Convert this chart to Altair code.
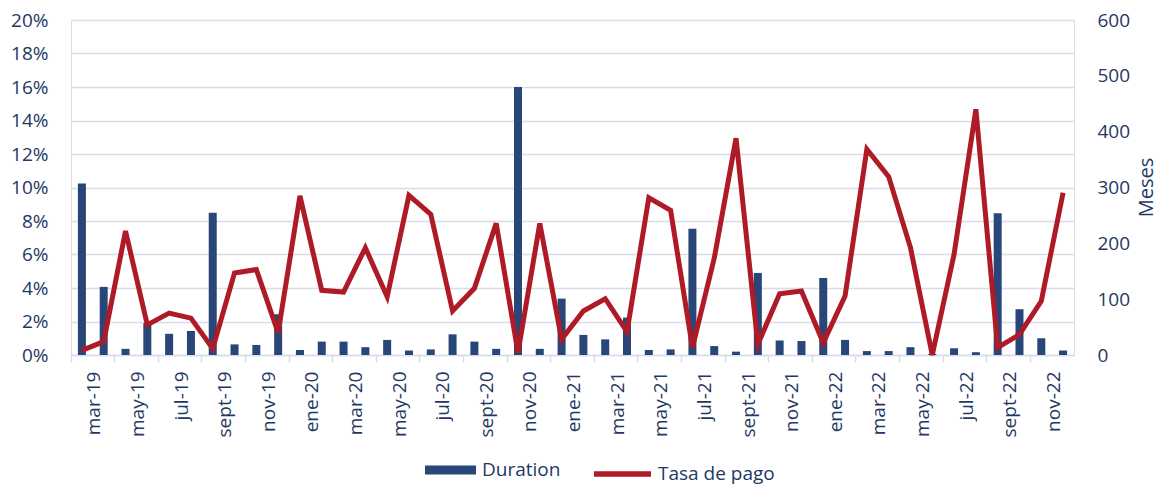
import altair as alt
import pandas as pd

months = [
    "mar-19", "abr-19", "may-19", "jun-19", "jul-19", "ago-19", "sept-19", "oct-19", "nov-19", "dic-19",
    "ene-20", "feb-20", "mar-20", "abr-20", "may-20", "jun-20", "jul-20", "ago-20", "sept-20", "oct-20",
    "nov-20", "dic-20", "ene-21", "feb-21", "mar-21", "abr-21", "may-21", "jun-21", "jul-21", "ago-21",
    "sept-21", "oct-21", "nov-21", "dic-21", "ene-22", "feb-22", "mar-22", "abr-22", "may-22", "jun-22",
    "jul-22", "ago-22", "sept-22", "oct-22", "nov-22", "dic-22",
]
duration = [307, 122, 11, 57, 38, 43, 255, 19, 18, 73,
            9, 24, 24, 14, 27, 8, 10, 37, 24, 11,
            480, 11, 101, 36, 28, 67, 9, 10, 226, 16,
            6, 147, 26, 25, 138, 27, 7, 7, 14, 2,
            12, 5, 254, 82, 30, 8]
tasa = [0.28, 0.8, 7.4, 1.8, 2.5, 2.2, 0.38, 4.9, 5.1, 1.33,
        9.5, 3.86, 3.76, 6.4, 3.48, 9.53, 8.4, 2.63, 3.98, 7.86,
        0.14, 7.86, 0.94, 2.63, 3.36, 1.39, 9.39, 8.64, 0.44, 5.77,
        12.94, 0.64, 3.66, 3.82, 0.73, 3.52, 12.28, 10.65, 6.41, 0.0,
        6.01, 14.67, 0.44, 1.23, 3.22, 9.69]
series_names = ["Duration", "Tasa de pago"]
shown_labels = months[::2]
left_ticks = list(range(0, 21, 2))
right_ticks = list(range(0, 601, 100))

df = pd.DataFrame({"mes": months, "Duration": duration, "Tasa": tasa})

TEXT = "#1F3864"
BAR = "#284677"
LINE = "#AE1A26"
GRID = "#D9DCEB"
FONT = "Open Sans"
FS = 19

x_enc = alt.X(
    "mes:N", sort=months,
    scale=alt.Scale(paddingInner=0, paddingOuter=0),
    axis=alt.Axis(
        title=None, values=shown_labels, labelAngle=-90, bandPosition=0,
        labelOffset=12.5, labelPadding=9, tickSize=7, tickWidth=1.5, tickColor=GRID,
        domainColor=GRID, domainWidth=1.5, grid=False,
        labelFont=FONT, labelFontSize=FS, labelColor=TEXT,
    ),
)

bars = alt.Chart(df).transform_calculate(serie=f"'{series_names[0]}'").mark_bar(size=8).encode(
    x=x_enc,
    y=alt.Y(
        "Duration:Q", scale=alt.Scale(domain=[0, 600], nice=False),
        axis=alt.Axis(
            orient="right", values=right_ticks, grid=False, ticks=False, tickSize=0, domain=False,
            labelPadding=23, labelFont=FONT, labelFontSize=FS, labelColor=TEXT,
            title="Meses", titleFont=FONT, titleFontSize=20, titleFontWeight="normal",
            titleColor=TEXT, titleAngle=270, titleX=72, titleY=167,
            titleAlign="center", titleBaseline="middle",
        ),
    ),
    color=alt.Color(
        "serie:N",
        scale=alt.Scale(domain=[series_names[0]], range=[BAR]),
        legend=alt.Legend(
            title=None, orient="none", legendX=354, legendY=424.5,
            symbolType="M-1,-0.18H1V0.18H-1Z", symbolSize=2601, symbolStrokeWidth=0,
            symbolOpacity=1, labelOffset=6,
            labelFont=FONT, labelFontSize=FS, labelColor=TEXT,
        ),
    ),
)

line = alt.Chart(df).transform_calculate(serie=f"'{series_names[1]}'").mark_line(strokeWidth=5).encode(
    x=x_enc,
    y=alt.Y(
        "Tasa:Q", scale=alt.Scale(domain=[0, 20], nice=False),
        axis=alt.Axis(
            orient="left", values=left_ticks, labelExpr="datum.value + '%'",
            grid=True, gridColor=GRID, gridWidth=1.5, ticks=False, tickSize=0, domain=False,
            labelPadding=23, labelFont=FONT, labelFontSize=FS, labelColor=TEXT, title=None,
        ),
    ),
    color=alt.Color(
        "serie:N",
        scale=alt.Scale(domain=[series_names[1]], range=[LINE]),
        legend=alt.Legend(
            title=None, orient="none", legendX=520, legendY=422.5,
            symbolType="stroke", symbolSize=3249, symbolStrokeWidth=5.5,
            labelOffset=4,
            labelFont=FONT, labelFontSize=FS, labelColor=TEXT,
        ),
    ),
)

chart = (
    alt.layer(bars, line)
    .resolve_scale(y="independent", color="independent")
    .properties(
        width=1003, height=335,
        autosize=alt.AutoSizeParams(type="none"),
        padding={"left": 63, "top": 12, "right": 85, "bottom": 131},
    )
    .configure_view(stroke=None)
    .configure(font=FONT)
)

chart.save("out.html", embed_options={"renderer": "svg", "actions": False})
